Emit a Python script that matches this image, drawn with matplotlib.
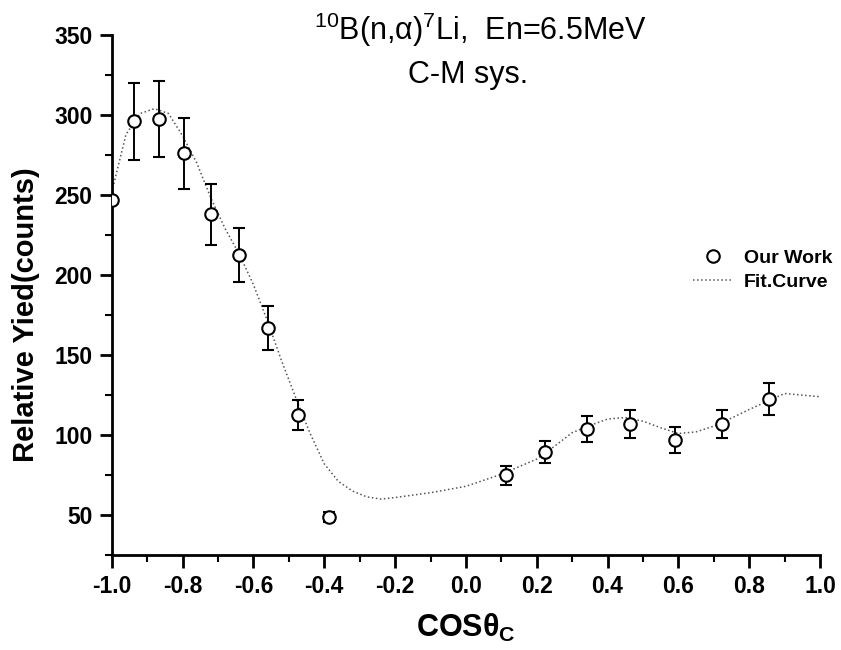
import matplotlib
matplotlib.use("Agg")
import matplotlib.pyplot as plt
from matplotlib.ticker import MultipleLocator
from matplotlib.lines import Line2D

plt.rcParams['font.family'] = ['Liberation Sans', 'DejaVu Sans']
plt.rcParams['mathtext.fontset'] = 'custom'
plt.rcParams['mathtext.rm'] = 'Liberation Sans'
plt.rcParams['mathtext.it'] = 'Liberation Sans:italic'
plt.rcParams['mathtext.bf'] = 'Liberation Sans:bold'

# measured data
cos_theta = [-1.0, -0.937, -0.866, -0.796, -0.720, -0.641, -0.559, -0.474, -0.386,
             0.114, 0.224, 0.343, 0.464, 0.591, 0.724, 0.855]
yield_counts = [247, 296, 297.5, 276, 238, 212.5, 167, 112.5, 49,
                75, 89.5, 104, 107, 97, 107, 122.5]
yield_err = [0, 24, 24, 22, 19, 17, 13.5, 9.5, 3,
             6, 7, 8, 8.5, 8, 8.5, 10]

# fit curve
fit_x = [-1.0, -0.96, -0.92, -0.88, -0.84, -0.80, -0.76, -0.72, -0.68, -0.64, -0.60,
         -0.56, -0.52, -0.48, -0.44, -0.40, -0.36, -0.32, -0.28, -0.24, -0.20, -0.10,
         0.0, 0.1, 0.2, 0.25, 0.3, 0.35, 0.4, 0.45, 0.5, 0.55, 0.6, 0.65, 0.7, 0.75,
         0.8, 0.85, 0.9, 0.95, 1.0]
fit_y = [252, 288, 301, 304, 301, 287, 270, 248, 229, 213, 194,
         171, 146, 123, 101, 82, 71, 65, 61.4, 60, 61, 64,
         68, 75.5, 85, 93, 101.5, 106, 110, 111, 108.7, 104.6, 101, 102, 105.6, 110.6,
         116, 121, 126, 125, 124]

x_ticks = [-1.0, -0.8, -0.6, -0.4, -0.2, 0.0, 0.2, 0.4, 0.6, 0.8, 1.0]
y_ticks = [50, 100, 150, 200, 250, 300, 350]

fig = plt.figure(figsize=(8.41, 6.50), dpi=100)
ax = fig.add_axes([0.133, 0.146, 0.842, 0.800])

ax.plot(fit_x, fit_y, linestyle=':', color='#555555', lw=1.1)
ax.errorbar(cos_theta, yield_counts, yerr=yield_err, fmt='o', mfc='white', mec='black',
            ms=9, mew=1.5, ecolor='black', elinewidth=1.4, capsize=4.5, capthick=1.4,
            zorder=3)

ax.set_xlim(-1.0, 1.0)
ax.set_ylim(25, 350)
ax.set_xticks(x_ticks)
ax.set_xticklabels([f"{v:.1f}" for v in x_ticks])
ax.set_yticks(y_ticks)
ax.xaxis.set_minor_locator(MultipleLocator(0.1))
ax.yaxis.set_minor_locator(MultipleLocator(25))

for s in ['top', 'right']:
    ax.spines[s].set_visible(False)
for s in ['left', 'bottom']:
    ax.spines[s].set_linewidth(2)

ax.tick_params(which='major', direction='out', length=9, width=2, labelsize=16.5, pad=5)
ax.tick_params(which='minor', direction='out', length=5, width=1.5)
for lab in ax.get_xticklabels() + ax.get_yticklabels():
    lab.set_fontweight('bold')

ax.set_ylabel('Relative Yied(counts)', fontsize=21, fontweight='bold')
ax.yaxis.set_label_coords(-0.101, 0.4615)
ax.set_xlabel(r'COSθ$_{\mathbf{C}}$', fontsize=22, fontweight='bold', labelpad=10)

ax.text(0.52, 1.01, r'$^{10}$B(n,α)$^{7}$Li,  En=6.5MeV', transform=ax.transAxes,
        ha='center', va='center', fontsize=22)
ax.text(0.503, 0.923, 'C-M sys.', transform=ax.transAxes,
        ha='center', va='center', fontsize=22)

h_data = Line2D([], [], linestyle='none', marker='o', mfc='white', mec='black', ms=9, mew=1.5)
h_fit = Line2D([], [], linestyle=':', color='#555555', lw=1.1)
ax.legend([h_data, h_fit], ['Our Work', 'Fit.Curve'], loc='center left',
          bbox_to_anchor=(0.82, 0.548), borderaxespad=0, borderpad=0,
          frameon=False, prop={'size': 14, 'weight': 'bold'}, handlelength=2.06,
          handletextpad=0.6, labelspacing=0.3)

fig.savefig('out.png', dpi=100)
